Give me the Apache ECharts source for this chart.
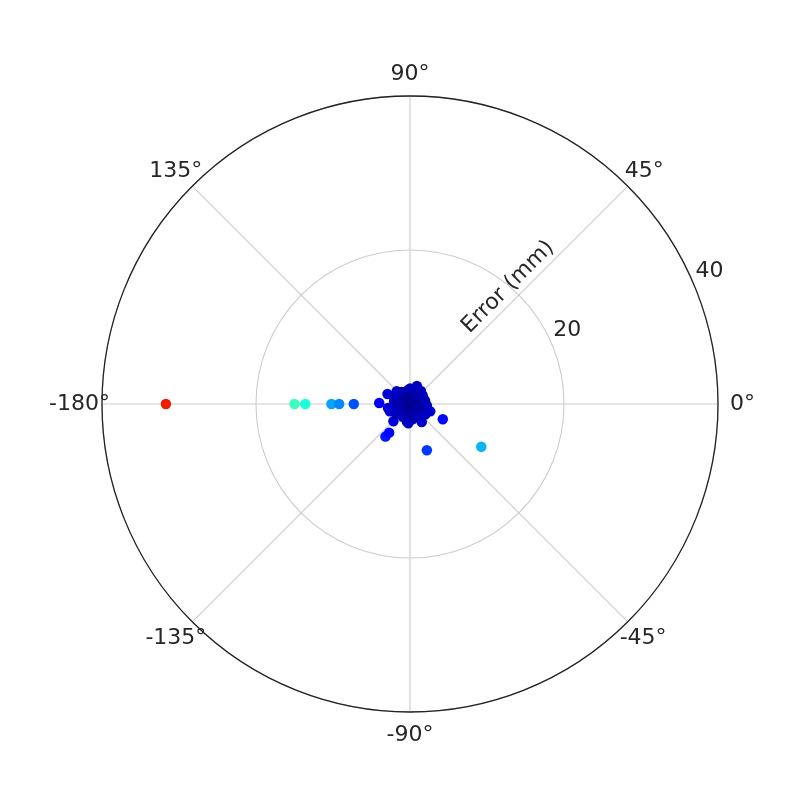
<!DOCTYPE html>
<html>
<head>
    <meta charset="utf-8">
    <title>Polar error</title>
    <script src="https://cdn.jsdelivr.net/npm/echarts@6/dist/echarts.min.js"></script>
    <style>
        html, body { margin: 0; padding: 0; background: #fff; }
        #chart { width: 800px; height: 800px; }
    </style>
</head>
<body>
<div id="chart"></div>
<script>
    // error magnitude (mm) and direction (deg) of each point
    var errRadius = [
        31.7, 15.0, 13.6, 10.2, 9.2, 7.3, 4.0,
        10.8, 6.4, 4.7, 5.3, 4.6,
        2.5, 3.2, 2.4, 1.6, 2.0, 2.8, 2.8, 3.1, 2.5, 2.8, 2.4, 2.9,
        0.3, 0.6, 0.9, 1.2, 1.4, 0.8, 1.7, 1.1, 1.5, 0.5, 1.9, 1.3,
        1.8, 0.7, 1.6, 2.1, 1.0, 2.2, 1.4, 2.0, 0.4,
        1.5, 2.0, 1.9, 2.3, 1.7, 2.2, 1.9, 2.3, 1.8, 2.1, 2.2, 1.9,
        2.0, 1.2, 1.0, 1.3, 0.9, 1.6
    ];
    var errAngle = [
        180, 180, 180, 180, 180, 180, 178,
        -31, -70, -25, -127, -126,
        69, 156, 136, 114, 12, -20, -160, -134, -95, -57, -35, -170,
        45, 120, -45, 160, 30, -150, -110, 80, -10, -80, 140, -140,
        100, 0, -60, 170, -160, 50, -170, -80, 170,
        60, 90, 125, 150, -175, -145, -120, -100, -75, -45, -5, 20,
        35, -25, 110, -95, 150, 175
    ];
    var radiusTicks = [0, 20, 40];
    var angleTicks = [-180, -135, -90, -45, 0, 45, 90, 135, 180];

    // matplotlib jet, sampled evenly
    var jet = ['#000080', '#0000ff', '#0080ff', '#14ffe2', '#7cff7c',
               '#e2ff14', '#ff9700', '#ff2100', '#800000'];

    // angle labels are centred on a ring in the original; pad each one outwards
    // padding: [top, right, bottom, left]
    var angleLabelPad = {
        '-180': [0, 12, 0, 0],
        '-135': [20, 0, 0, 0],
        '-90': [32, 0, 0, 0],
        '-45': [20, 0, 0, 6],
        '0': [0, 0, 0, 32],
        '45': [0, 0, 18, 11],
        '90': [0, 0, 31, 0],
        '135': [0, 4, 18, 0]
    };

    var points = [];
    for (var i = 0; i < errRadius.length; i++) {
        points.push([errRadius[i], errAngle[i]]);
    }

    var textColor = '#262626';
    var labelFont = 'DejaVu Sans';
    var center = [410, 404];
    var radius = 308;

    var angleRich = {};
    for (var key in angleLabelPad) {
        angleRich['a' + key.replace('-', 'm')] = {
            padding: angleLabelPad[key],
            fontFamily: labelFont,
            fontSize: 22,
            color: textColor
        };
    }

    var chart = echarts.init(document.getElementById('chart'));
    chart.setOption({
        backgroundColor: '#fff',
        animation: false,
        polar: [
            { center: center, radius: radius },
            { center: center, radius: radius }
        ],
        angleAxis: [{
            polarIndex: 0,
            type: 'value',
            min: angleTicks[0],
            max: angleTicks[angleTicks.length - 1],
            interval: 45,
            startAngle: 180,
            clockwise: false,
            axisLine: { lineStyle: { color: '#222', width: 1.3 } },
            axisTick: { show: false },
            axisLabel: {
                margin: -20,
                fontFamily: labelFont,
                fontSize: 22,
                color: textColor,
                rich: angleRich,
                formatter: function (v) {
                    if (v === 180) return '';
                    return '{a' + String(v).replace('-', 'm') + '|' + v + '°}';
                }
            },
            splitLine: { lineStyle: { color: '#cccccc', width: 1.1 } }
        }, {
            polarIndex: 1,
            type: 'value',
            min: 0,
            max: 360,
            startAngle: 22.5,
            axisLine: { show: false },
            axisTick: { show: false },
            axisLabel: { show: false },
            splitLine: { show: false }
        }],
        radiusAxis: [{
            polarIndex: 0,
            min: radiusTicks[0],
            max: radiusTicks[radiusTicks.length - 1],
            interval: 20,
            axisLine: { show: false },
            axisTick: { show: false },
            axisLabel: { show: false },
            splitLine: { lineStyle: { color: '#cccccc', width: 1.1 } }
        }, {
            polarIndex: 1,
            min: radiusTicks[0],
            max: radiusTicks[radiusTicks.length - 1],
            interval: 20,
            axisLine: { show: false },
            axisTick: { show: false },
            splitLine: { show: false },
            axisLabel: {
                margin: 16,
                align: 'left',
                verticalAlign: 'middle',
                padding: [4, 0, 0, 7],
                fontFamily: labelFont,
                fontSize: 22,
                color: textColor,
                formatter: function (v) { return v === 0 ? '' : String(v); }
            }
        }],
        visualMap: {
            show: false,
            type: 'continuous',
            seriesIndex: 0,
            dimension: 0,
            min: 0,
            max: 35.6,
            inRange: { color: jet }
        },
        graphic: [{
            type: 'text',
            x: 508,
            y: 287,
            rotation: Math.PI / 4,
            style: {
                text: 'Error (mm)',
                x: 0,
                y: 0,
                align: 'center',
                verticalAlign: 'middle',
                font: '22px "DejaVu Sans"',
                fill: textColor
            }
        }],
        series: [{
            type: 'scatter',
            coordinateSystem: 'polar',
            polarIndex: 0,
            symbolSize: 10.5,
            itemStyle: { opacity: 1 },
            data: points,
            z: 5
        }]
    });
</script>
</body>
</html>
